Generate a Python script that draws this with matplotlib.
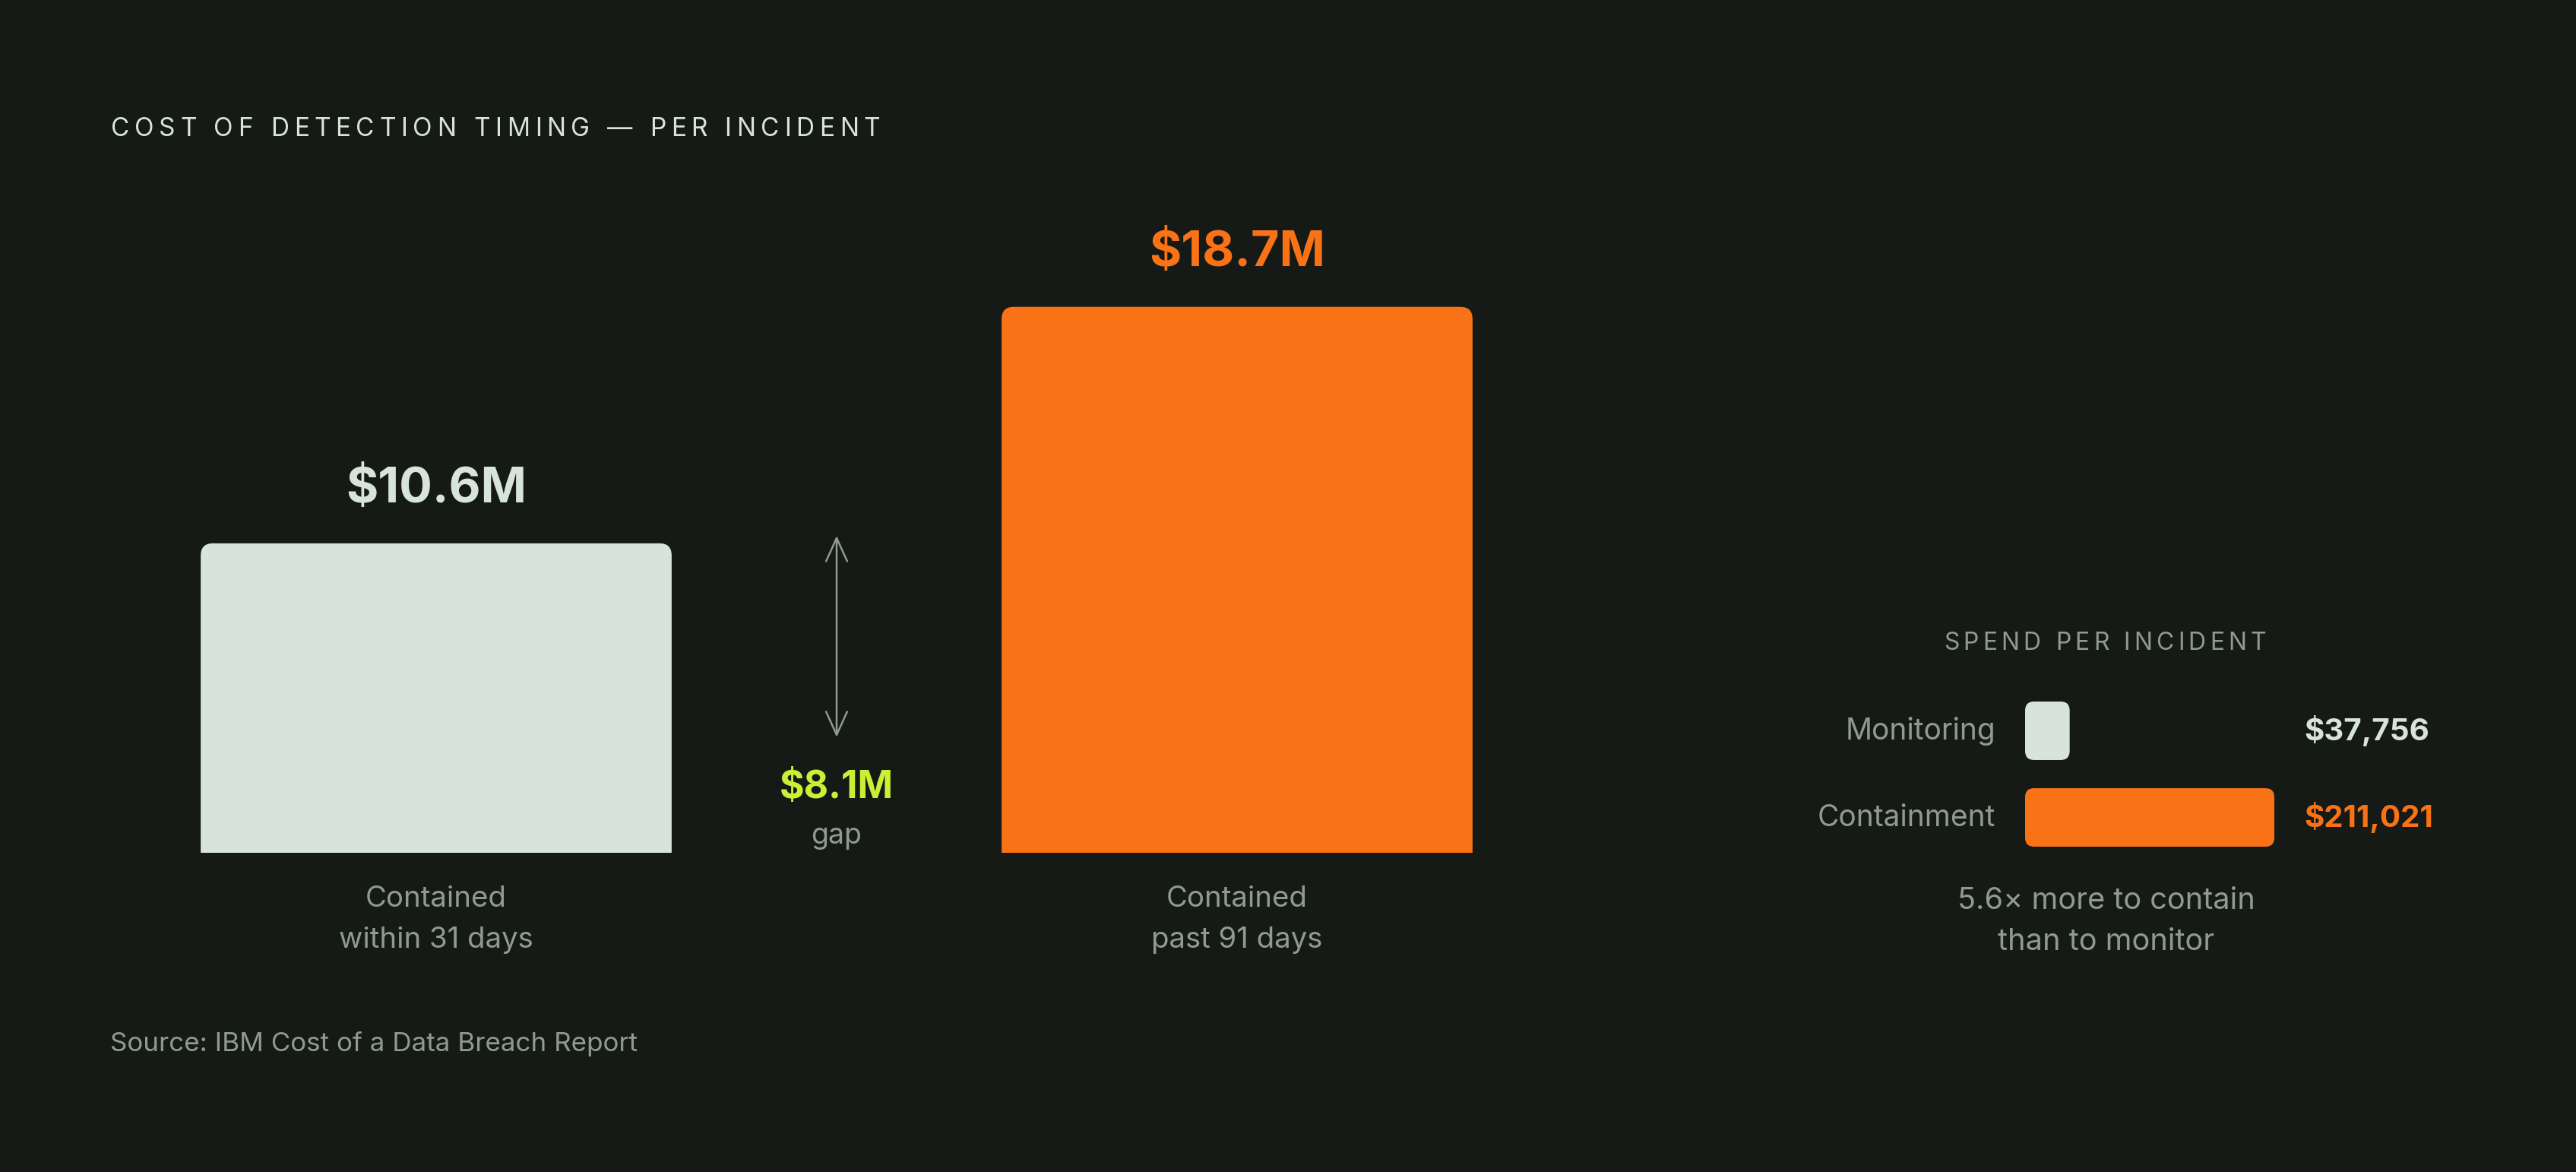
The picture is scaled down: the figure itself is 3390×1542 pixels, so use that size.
import matplotlib
matplotlib.use('Agg')
import matplotlib.pyplot as plt
from matplotlib.patches import FancyBboxPatch
from matplotlib.font_manager import FontProperties, findfont, get_font

# data
title = 'COST OF DETECTION TIMING — PER INCIDENT'
categories = ['Contained\nwithin 31 days', 'Contained\npast 91 days']
costs_m = [10.6, 18.7]
value_labels = ['$10.6M', '$18.7M']
spend_labels = ['Monitoring', 'Containment']
spend_values = [37756, 211021]
spend_value_labels = ['$37,756', '$211,021']
spend_title = 'SPEND PER INCIDENT'
spend_note = '5.6× more to contain\nthan to monitor'
source = 'Source: IBM Cost of a Data Breach Report'

BG = '#161a17'
LIGHT = '#d7e4dc'
ORANGE = '#f97316'
LIME = '#c8f035'
GRAY = '#8e9a92'
FONT = ['Inter', 'DejaVu Sans']

plt.rcParams['font.family'] = FONT

W, H = 3390, 1542
DPI = 200
fig = plt.figure(figsize=(W / DPI, H / DPI), dpi=DPI, facecolor=BG)


def fx(px):
    return px / W


def fy(py):
    return 1 - py / H


def round_bars(ax, bars, radius_px, extend_below=False):
    # swap plain bars for rounded ones, keeping the corner radius in pixels
    (x0, y0), (x1, y1) = ax.transData.transform([(0, 0), (1, 1)])
    ppx, ppy = abs(x1 - x0), abs(y1 - y0)
    rx, ry = radius_px / ppx, radius_px / ppy
    for b in bars:
        x, y, w, h = b.get_x(), b.get_y(), b.get_width(), b.get_height()
        fc = b.get_facecolor()
        b.remove()
        if extend_below:
            y -= ry
            h += ry
        p = FancyBboxPatch((x, y), w, h, boxstyle=f'round,pad=0,rounding_size={rx}',
                           mutation_aspect=ppx / ppy, facecolor=fc, edgecolor='none')
        ax.add_patch(p)


def tracked_text(x_px, y_px, s, size, color, track_em, ha='left'):
    # letter-spaced text, one glyph at a time
    fp = FontProperties(family=FONT, size=size)
    font = get_font(findfont(fp))
    font.set_size(size, DPI)
    adv = [font.load_char(ord(c)).linearHoriAdvance / 65536 for c in s]
    track = track_em * size * DPI / 72
    total = sum(adv) + track * (len(s) - 1)
    x = x_px - total / 2 if ha == 'center' else x_px
    for c, a in zip(s, adv):
        fig.text(fx(x), fy(y_px), c, fontproperties=fp, color=color, va='baseline', ha='left')
        x += a + track


# main bars
ax = fig.add_axes([fx(47), 420 / H, 2108 / W, 845 / H])
ax.set_xlim(-0.5, 1.5)
ax.set_ylim(0, 22)
ax.axis('off')
bars = ax.bar(range(len(costs_m)), costs_m, width=0.588, color=[LIGHT, ORANGE])
round_bars(ax, bars, 16, extend_below=True)

for i, (v, lbl, c) in enumerate(zip(costs_m, value_labels, [LIGHT, ORANGE])):
    ax.annotate(lbl, (i, v), xytext=(0, 19.5), textcoords='offset points', ha='center',
                va='baseline', fontsize=23.3, fontweight='bold', color=c)
    ax.annotate(categories[i], (i, 0), xytext=(0, -15.5), textcoords='offset points',
                ha='center', va='top', fontsize=13.8, color=GRAY, linespacing=1.65)

# gap between the two bars
gap = costs_m[1] - costs_m[0]
ax.annotate('', xy=(0.5, 3.96), xytext=(0.5, costs_m[0] + 0.26),
            arrowprops=dict(arrowstyle='<->,head_length=1.1,head_width=0.5', mutation_scale=10,
                            lw=0.9, color=GRAY, shrinkA=0, shrinkB=0))
ax.annotate(f'${gap:.1f}M', (0.5, 0), xytext=(0, 26), textcoords='offset points', ha='center',
            va='baseline', fontsize=18, fontweight='bold', color=LIME)
ax.annotate('gap', (0.5, 0), xytext=(0, 4.3), textcoords='offset points', ha='center',
            va='baseline', fontsize=13.5, color=GRAY)

# spend per incident panel
ax2 = fig.add_axes([fx(2665), 409.5 / H, 388.6 / W, 228 / H])
ax2.set_xlim(0, 250000)
ax2.set_ylim(1.5, -0.5)
ax2.axis('off')
bars2 = ax2.barh(range(len(spend_values)), spend_values, height=0.675, color=[LIGHT, ORANGE])
round_bars(ax2, bars2, 12)

for i, (lbl, vl, c) in enumerate(zip(spend_labels, spend_value_labels, [LIGHT, ORANGE])):
    ax2.annotate(lbl, (0, i), xytext=(-14, -4), textcoords='offset points', ha='right',
                 va='baseline', fontsize=14, color=GRAY)
    ax2.annotate(vl, (max(spend_values), i), xytext=(14, -4.5), textcoords='offset points',
                 ha='left', va='baseline', fontsize=14.5, fontweight='bold', color=c)

tracked_text(2770, 855, spend_title, 11.5, GRAY, 0.16, ha='center')
fig.text(fx(2772), fy(1167), spend_note, ha='center', va='top', fontsize=14.3, color=GRAY,
         linespacing=1.6)

# title and source
tracked_text(146, 179, title, 12, LIGHT, 0.2)
fig.text(fx(145), fy(1383), source, fontsize=12.6, color=GRAY, va='baseline')

fig.savefig('out.png', dpi=DPI, facecolor=BG)
